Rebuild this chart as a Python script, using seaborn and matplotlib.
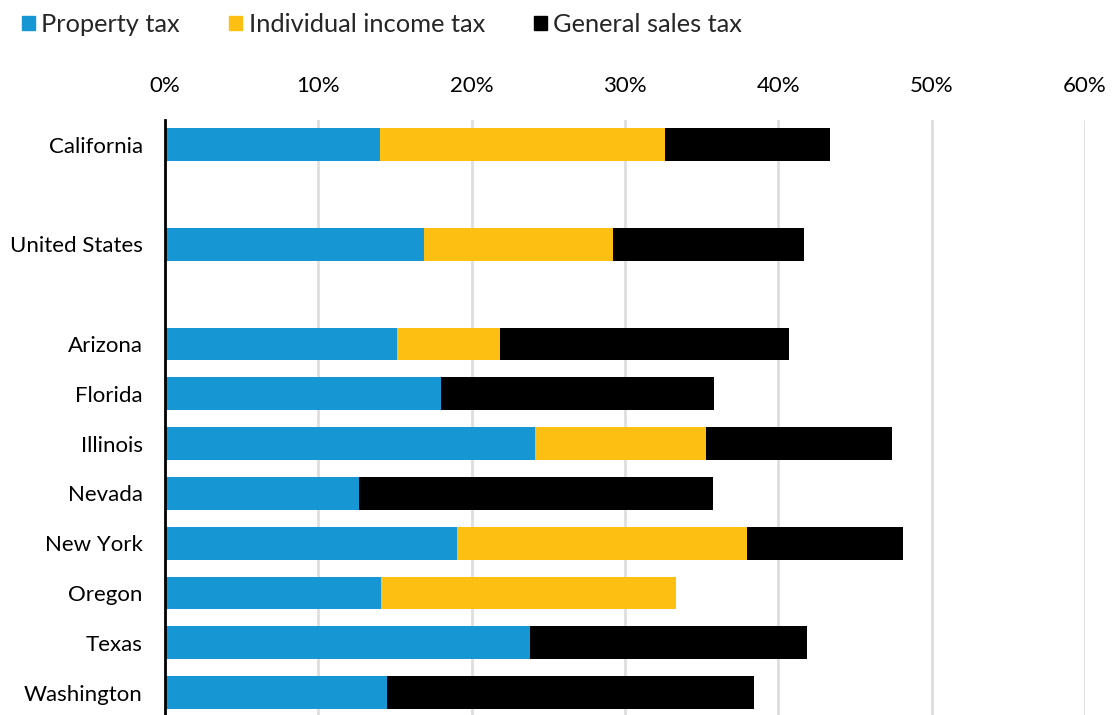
import matplotlib
matplotlib.use("Agg")
import matplotlib.pyplot as plt
import matplotlib.patches as mpatches
from matplotlib.ticker import PercentFormatter
import seaborn as sns
import pandas as pd

states = ["California", "United States", "Arizona", "Florida", "Illinois", "Nevada",
          "New York", "Oregon", "Texas", "Washington"]
property_tax = [14.0, 16.9, 15.1, 18.0, 24.1, 12.65, 19.05, 14.1, 23.8, 14.5]
income_tax = [18.6, 12.3, 6.75, 0.0, 11.2, 0.0, 18.9, 19.2, 0.0, 0.0]
sales_tax = [10.8, 12.5, 18.85, 17.8, 12.1, 23.1, 10.2, 0.0, 18.1, 23.9]
xticks = [0, 10, 20, 30, 40, 50, 60]

order = ["California", "_gap1", "United States", "_gap2", "Arizona", "Florida", "Illinois",
         "Nevada", "New York", "Oregon", "Texas", "Washington"]

df = pd.DataFrame({"state": states, "property": property_tax,
                   "income": income_tax, "sales": sales_tax})
df["p_i"] = df["property"] + df["income"]
df["total"] = df["p_i"] + df["sales"]

sns.set_theme(style="white")
plt.rcParams["font.family"] = ["Lato", "DejaVu Sans"]

colors = {"Property tax": "#1696d2", "Individual income tax": "#fdbf11",
          "General sales tax": "#000000"}

fig = plt.figure(figsize=(11.14, 7.15), dpi=100)
ax = fig.add_axes([165 / 1114, 0, (1085 - 165) / 1114, 1 - 120 / 715])

for col, c in [("total", colors["General sales tax"]),
               ("p_i", colors["Individual income tax"]),
               ("property", colors["Property tax"])]:
    sns.barplot(data=df, x=col, y="state", order=order, orient="y", color=c,
                width=0.66, saturation=1, ax=ax, linewidth=0, zorder=3)

ax.set_xlim(0, 60)
ax.set_ylim(11.45, -0.5)
ax.set_xticks(xticks)
ax.xaxis.set_major_formatter(PercentFormatter(decimals=0))
ax.xaxis.tick_top()
ax.tick_params(axis="x", length=0, pad=17, labelsize=16, labelcolor="#000000")
ax.tick_params(axis="y", length=0, pad=16, labelsize=16, labelcolor="#000000")
labels = ["" if s.startswith("_") else s for s in order]
ax.set_yticks(range(len(order)))
ax.set_yticklabels(labels)
ax.set_xlabel("")
ax.set_ylabel("")
ax.grid(axis="x", color="#dedede", linewidth=2, zorder=0)
ax.grid(axis="y", visible=False)
for s in ["top", "right", "bottom"]:
    ax.spines[s].set_visible(False)
ax.spines["left"].set_color("#000000")
ax.spines["left"].set_linewidth(2)
ax.spines["left"].set_zorder(5)

handles = [mpatches.Patch(color=v, label=k) for k, v in colors.items()]
fig.legend(handles=handles, loc="upper left", bbox_to_anchor=(0.004, 1.007), ncol=3,
           frameon=False, fontsize=18.3, handlelength=0.5, handleheight=0.5,
           handletextpad=0.25, columnspacing=1.95, borderaxespad=0.3)

fig.savefig("out.png", dpi=100)
